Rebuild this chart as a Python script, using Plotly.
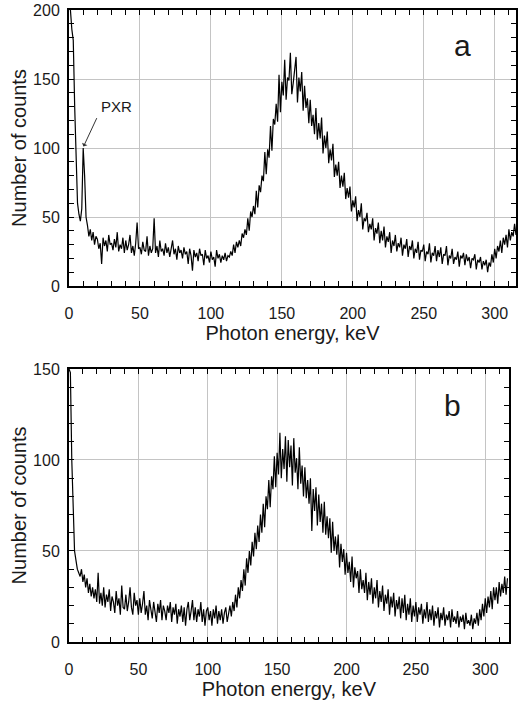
import plotly.graph_objects as go

# ---------------- data (counts per 1 keV channel) ----------------
energy_a = list(range(0, 316))
counts_a = [
    205, 200, 186, 178, 130, 90, 60, 52, 47, 56,
    100, 80, 50, 44, 36, 41, 33, 39, 30, 36,
    34, 27, 31, 16, 35, 29, 33, 25, 37, 30,
    31, 26, 34, 28, 39, 25, 30, 27, 35, 24,
    33, 26, 30, 37, 24, 29, 22, 31, 46, 27,
    28, 23, 32, 26, 25, 36, 22, 29, 24, 27,
    49, 24, 29, 21, 33, 25, 27, 22, 31, 24,
    28, 21, 26, 33, 23, 27, 19, 29, 24, 26,
    20, 28, 23, 25, 16, 27, 22, 11, 26, 21,
    24, 18, 27, 22, 23, 15, 26, 20, 22, 17,
    25, 19, 21, 14, 26, 20, 23, 17, 22, 19,
    24, 18, 22, 21, 25, 22, 30, 24, 32, 28,
    33, 29, 38, 35, 41, 37, 49, 40, 54, 50,
    58, 52, 69, 57, 73, 68, 80, 76, 97, 81,
    99, 93, 116, 98, 121, 117, 132, 119, 153, 126,
    148, 138, 164, 135, 151, 149, 169, 139, 147, 158,
    166, 133, 151, 141, 155, 127, 145, 129, 136, 118,
    135, 116, 124, 110, 129, 106, 118, 107, 122, 96,
    109, 100, 112, 89, 99, 91, 103, 79, 88, 80,
    90, 71, 80, 72, 82, 63, 71, 64, 72, 54,
    62, 57, 65, 47, 55, 50, 60, 41, 49, 47,
    53, 39, 45, 41, 49, 33, 42, 38, 46, 31,
    40, 33, 43, 28, 36, 32, 39, 24, 33, 29,
    37, 25, 31, 28, 35, 22, 30, 27, 34, 21,
    29, 26, 33, 20, 27, 24, 32, 19, 26, 25,
    30, 18, 25, 23, 31, 17, 24, 22, 29, 18,
    26, 21, 28, 16, 23, 22, 29, 15, 22, 20,
    27, 16, 21, 19, 25, 14, 22, 20, 24, 15,
    23, 18, 21, 13, 20, 19, 23, 12, 19, 17,
    21, 12, 18, 15, 19, 10, 17, 14, 23, 17,
    27, 20, 29, 25, 33, 24, 35, 30, 37, 28,
    41, 33, 39, 36, 45, 37,
]

energy_b = list(range(0, 317))
counts_b = [
    150, 148, 100, 80, 50, 45, 40, 38, 36, 40,
    33, 37, 30, 35, 27, 32, 25, 30, 24, 29,
    22, 38, 21, 27, 20, 30, 19, 26, 22, 29,
    17, 25, 22, 16, 28, 20, 24, 15, 31, 19,
    18, 26, 17, 22, 30, 19, 15, 27, 20, 23,
    15, 24, 16, 21, 28, 15, 20, 12, 23, 18,
    13, 22, 17, 11, 21, 16, 23, 12, 20, 17,
    12, 20, 16, 22, 11, 19, 15, 21, 10, 18,
    14, 20, 11, 19, 9, 18, 22, 12, 17, 23,
    12, 19, 11, 18, 14, 22, 11, 18, 9, 17,
    19, 12, 17, 9, 18, 13, 20, 10, 17, 12,
    18, 10, 16, 19, 11, 17, 20, 14, 22, 17,
    26, 19, 30, 24, 34, 28, 40, 31, 46, 38,
    50, 42, 55, 47, 60, 51, 64, 55, 70, 60,
    76, 63, 80, 73, 89, 74, 91, 84, 102, 85,
    104, 92, 115, 90, 106, 95, 113, 88, 111, 96,
    108, 86, 112, 93, 101, 84, 107, 87, 97, 80,
    96, 79, 89, 76, 90, 61, 84, 72, 85, 64,
    81, 66, 76, 60, 77, 59, 69, 57, 68, 49,
    66, 50, 58, 48, 59, 41, 54, 44, 51, 37,
    49, 38, 44, 33, 47, 30, 41, 35, 39, 27,
    40, 29, 34, 27, 38, 23, 33, 26, 35, 21,
    30, 24, 34, 19, 28, 22, 31, 17, 26, 21,
    29, 15, 25, 19, 27, 14, 23, 18, 25, 13,
    24, 16, 26, 12, 21, 15, 24, 11, 20, 14,
    22, 11, 19, 15, 21, 10, 18, 13, 22, 11,
    18, 12, 20, 9, 17, 13, 19, 8, 16, 12,
    19, 9, 15, 12, 17, 8, 18, 11, 14, 10,
    17, 8, 14, 11, 15, 7, 16, 10, 12, 9,
    15, 7, 13, 10, 16, 9, 18, 12, 21, 14,
    24, 16, 25, 19, 28, 18, 30, 23, 30, 21,
    33, 25, 32, 27, 36, 26, 35,
]

x_ticks = [0, 50, 100, 150, 200, 250, 300]
y_ticks_a = [0, 50, 100, 150, 200]
y_ticks_b = [0, 50, 100, 150]
x_title = "Photon energy, keV"
y_title = "Number of counts"

# ---------------- figure ----------------
FONT = "Liberation Sans, Arial, sans-serif"
TXT = "#1a1a1a"
GRID = "#c4c4c4"

fig = go.Figure()
fig.add_trace(go.Scatter(x=energy_a, y=counts_a, mode="lines", line=dict(color="black", width=1.2),
                         xaxis="x", yaxis="y", showlegend=False, hoverinfo="skip"))
fig.add_trace(go.Scatter(x=energy_b, y=counts_b, mode="lines", line=dict(color="black", width=1.2),
                         xaxis="x2", yaxis="y2", showlegend=False, hoverinfo="skip"))

def xax(domain, rng, anchor):
    return dict(domain=domain, range=rng, anchor=anchor, tickvals=x_ticks, automargin=False,
                showline=True, linecolor="black", linewidth=2, mirror="allticks",
                ticks="inside", ticklen=5, tickwidth=1, tickcolor="black",
                minor=dict(dtick=10, ticks="inside", ticklen=5, tickwidth=1, tickcolor="black", showgrid=False),
                showgrid=True, gridcolor=GRID, gridwidth=1.3, zeroline=False,
                tickfont=dict(family=FONT, size=16, color=TXT), ticklabelstandoff=12,
                title=dict(text=x_title, font=dict(family=FONT, size=20, color=TXT), standoff=0))

def yax(domain, rng, anchor, tv):
    return dict(domain=domain, range=rng, anchor=anchor, tickvals=tv, automargin=False,
                showline=True, linecolor="black", linewidth=2, mirror="allticks",
                ticks="inside", ticklen=5, tickwidth=1, tickcolor="black",
                minor=dict(dtick=10, ticks="inside", ticklen=5, tickwidth=1, tickcolor="black", showgrid=False),
                showgrid=True, gridcolor=GRID, gridwidth=1.3, zeroline=False,
                tickfont=dict(family=FONT, size=16, color=TXT), ticklabelstandoff=4,
                title=dict(text=y_title, font=dict(family=FONT, size=20, color=TXT), standoff=1))

fig.update_layout(
    width=518, height=706,
    margin=dict(l=69, r=2, t=10, b=64, autoexpand=False),
    paper_bgcolor="white", plot_bgcolor="white",
    xaxis=xax([0, 1], [0, 315], "y"),
    yaxis=yax([0.5633, 1], [0, 200], "x", y_ticks_a),
    xaxis2=xax([0, 0.984], [0, 317], "y2"),
    yaxis2=yax([0, 0.432], [0, 150], "x2", y_ticks_b),
    annotations=[
        dict(x=277.6, y=174.3, xref="x", yref="y", text="a", showarrow=False,
             font=dict(family=FONT, size=30, color=TXT)),
        dict(x=276.6, y=130.2, xref="x2", yref="y2", text="b", showarrow=False,
             font=dict(family=FONT, size=30, color=TXT)),
        dict(x=33.6, y=130.2, xref="x", yref="y", text="PXR", showarrow=False,
             font=dict(family=FONT, size=15, color=TXT)),
        dict(x=10.2, y=101, xref="x", yref="y", text="", showarrow=True,
             ax=14, ay=-30, arrowhead=1, arrowsize=1, arrowwidth=1, arrowcolor="#333"),
    ],
)

# remove the browser's default 8 px page margin so the figure fills the window
fig.write_html("out.html", config={"displayModeBar": False},
               post_script="document.body.style.margin='0px';")
